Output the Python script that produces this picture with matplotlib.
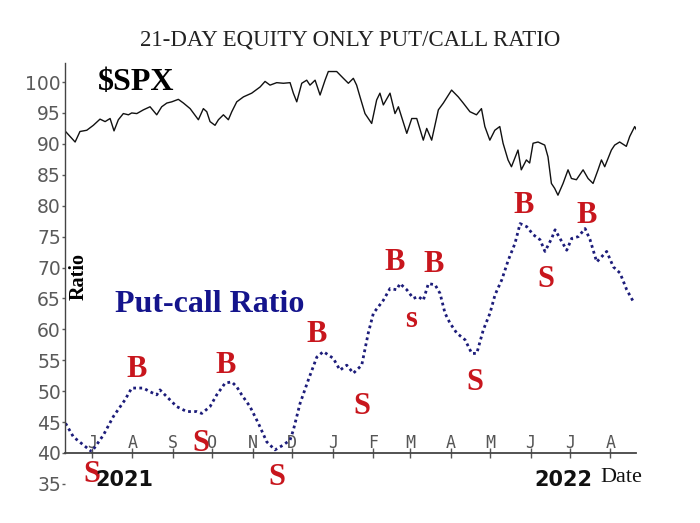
import matplotlib
matplotlib.use("Agg")
import matplotlib.pyplot as plt
import pandas as pd

# all x values are days after 2021-07-01
start = pd.Timestamp("2021-07-01")

# S&P 500 (scaled)
spx_days = [-20, -12.7, -9, -3.8, 1.2, 6.3, 10.2, 14, 17, 20.3,
            24.1, 28, 30.5, 34.4, 39.4, 44.5, 49.6, 53.4, 57.3, 61.1,
            66.1, 70, 75.1, 81.4, 85.2, 87.8, 90.3, 94.1, 96.7, 100.5,
            104.3, 106.9, 110.7, 115.8, 122.1, 128.5, 132.3, 136.1, 141.2, 146.3,
            151.4, 153.9, 156.5, 160.3, 164.1, 166.6, 170.5, 174.3, 178.1, 180.6,
            187, 192.1, 195.9, 199.7, 202.2, 204.8, 208.6, 213.7, 217.5, 220,
            222.6, 227.7, 231.5, 234.1, 240.5, 244.3, 248.1, 253.1, 255.7, 259.5,
            264.6, 268.4, 274.7, 279.8, 283.6, 288.7, 293.7, 297.5, 300.1, 303.9,
            307.7, 311.5, 314, 317.8, 320.4, 325.4, 327.9, 331.8, 334.3, 336.9,
            340.7, 345.8, 348.3, 350.9, 353.4, 355.9, 359.8, 363.6, 366.2, 370,
            375.1, 378.9, 382.7, 386.5, 389.1, 391.6, 396.7, 399.2, 403, 408.1,
            410.7, 414.5, 416]
spx_vals = [92.0, 90.3, 92.0, 92.2, 93.0, 94.0, 93.6, 94.1, 92.1, 93.9,
            94.9, 94.7, 95.0, 94.9, 95.5, 96.0, 94.7, 96.0, 96.6, 96.8,
            97.2, 96.6, 95.7, 93.9, 95.7, 95.2, 93.6, 93.0, 93.9, 94.7,
            93.9, 95.2, 96.8, 97.6, 98.2, 99.2, 100.1, 99.5, 99.9, 99.8,
            99.9, 98.2, 96.8, 99.8, 100.3, 99.5, 100.3, 97.9, 100.3, 101.7,
            101.7, 100.6, 99.8, 100.6, 99.5, 97.6, 94.9, 93.3, 97.1, 98.2,
            96.3, 98.2, 94.9, 96.0, 91.7, 94.1, 94.1, 90.6, 92.5, 90.6,
            95.5, 96.6, 98.7, 97.6, 96.6, 95.2, 94.7, 95.7, 92.8, 90.6,
            92.2, 92.8, 90.1, 87.4, 86.3, 89.0, 85.8, 87.4, 86.9, 90.1,
            90.3, 89.8, 87.9, 83.6, 82.8, 81.7, 83.6, 85.8, 84.4, 84.2,
            85.8, 84.4, 83.6, 85.8, 87.4, 86.3, 89.0, 89.8, 90.3, 89.6,
            91.2, 92.8, 92.2]

# 21-day equity-only put/call ratio
pcr_days = [-20, -14, 0, 8.9, 16.5, 25.4, 30.5, 39.4, 44.5, 49.6,
            52.1, 57.3, 64.9, 72.5, 80.2, 84, 90.3, 95.4, 101.8, 106.9,
            110.7, 114.5, 120.8, 127.2, 133.6, 139.9, 146.3, 151.4, 153.9, 159,
            165.3, 171.8, 176.8, 184.4, 189.5, 194.7, 199.7, 206.1, 211.1, 215,
            222.6, 227.7, 232.8, 235.3, 240.5, 245.5, 249.3, 253.1, 257, 262.1,
            265.9, 269.7, 273.5, 278.6, 285, 290.1, 293.9, 298.9, 304, 307.9,
            313, 318, 323.1, 327, 332.1, 337.1, 342.2, 346, 351.1, 353.7,
            358.8, 362.6, 366.4, 371.5, 376.6, 380.4, 385.5, 393.1, 398.2, 403.3,
            408.4, 413.4]
pcr_vals = [44.8, 42.6, 40.2, 42.9, 45.9, 48.6, 50.5, 50.5, 49.9, 49.4,
            50.2, 49.1, 47.5, 46.7, 46.7, 46.4, 47.5, 49.4, 51.3, 51.5,
            50.7, 49.4, 47.5, 44.8, 41.8, 40.5, 41.3, 42.1, 43.7, 48.0,
            51.8, 55.5, 56.4, 55.3, 53.4, 54.2, 52.9, 54.2, 59.4, 62.6,
            64.7, 66.6, 66.4, 67.4, 66.4, 65.0, 65.3, 64.7, 67.4, 67.2,
            65.8, 62.6, 61.0, 59.4, 58.3, 56.1, 56.1, 59.9, 62.6, 65.6,
            68.0, 71.2, 73.9, 77.1, 76.6, 75.3, 74.5, 72.6, 74.7, 76.1,
            74.2, 72.8, 74.7, 75.0, 76.3, 74.5, 70.9, 72.6, 70.1, 69.1,
            66.4, 64.5]

# buy / sell signal labels (text, day, baseline value)
sig_text = ["S", "B", "S", "B", "S", "B", "S", "B", "s", "B", "S", "B", "S", "B"]
sig_days = [0, 34, 83, 102, 141, 172, 206, 231.5, 243.5, 261, 292.6, 329.5, 346.6, 378]
sig_vals = [35.3, 52.3, 40.3, 52.9, 34.8, 58.0, 46.3, 69.6, 60.4, 69.2,
            50.2, 78.8, 66.9, 77.2]

month_ticks = ["2021-07-01", "2021-08-01", "2021-09-01", "2021-10-01", "2021-11-01",
               "2021-12-01", "2022-01-01", "2022-02-01", "2022-03-01", "2022-04-01",
               "2022-05-01", "2022-06-01", "2022-07-01", "2022-08-01"]
month_labels = ["J", "A", "S", "O", "N", "D", "J", "F", "M", "A", "M", "J", "J", "A"]
y_ticks = [35, 40, 45, 50, 55, 60, 65, 70, 75, 80, 85, 90, 95, 100]


def to_dates(days):
    return start + pd.to_timedelta(days, unit="D")


fig = plt.figure(figsize=(7, 5.23), dpi=100)
ax = fig.add_axes([0.0929, 0.0748, 0.8157, 0.8038])

ax.plot(to_dates(spx_days), spx_vals, color="#111111", lw=1.0)
ax.plot(to_dates(pcr_days), pcr_vals, color="#1c1c7a", lw=2.0,
        linestyle=(0, (1.0, 1.2)))

serif = "Liberation Serif"
for t, d, v in zip(sig_text, to_dates(sig_days), sig_vals):
    ax.text(d, v, t, ha="center", va="baseline", fontsize=22,
            fontweight="bold", family=serif, color="#c8161d", clip_on=False)

ax.set_xlim(to_dates([-20.4])[0], to_dates([415.5])[0])
ax.set_ylim(35, 103)

for s in ["top", "right"]:
    ax.spines[s].set_visible(False)
ax.spines["bottom"].set_position(("data", 40))
ax.spines["left"].set_bounds(40, 103)
ax.spines["bottom"].set_color("#444444")
ax.spines["left"].set_color("#444444")
ax.spines["bottom"].set_linewidth(1.3)
ax.spines["left"].set_linewidth(1.0)

ax.set_yticks(y_ticks)
ax.set_yticklabels([str(v) for v in y_ticks])
ax.tick_params(axis="y", direction="out", length=2.5, pad=0.5, colors="#5a5a5a",
               labelsize=13.5, width=1)
ax.set_xticks(pd.to_datetime(month_ticks))
ax.set_xticklabels(month_labels, family="DejaVu Sans Mono")
ax.tick_params(axis="x", direction="inout", length=7, width=1, pad=-17.5,
               colors="#555555", labelsize=12)

fig.text(0.5, 1 - 40 / 523, "21-DAY EQUITY ONLY PUT/CALL RATIO", ha="center",
         va="center", fontsize=16.5, family=serif, color="#222222")
fig.text(136 / 700, 1 - 90 / 523, "$SPX", ha="center", va="baseline",
         fontsize=23, fontweight="bold", family=serif, color="black")
fig.text(210 / 700, 1 - 311.5 / 523, "Put-call Ratio", ha="center", va="baseline",
         fontsize=23, fontweight="bold", family=serif, color="#14148c")
fig.text(79 / 700, 1 - 277 / 523, "Ratio", ha="center", va="center", rotation=90,
         fontsize=14.5, fontweight="bold", family=serif, color="black")
fig.text(124 / 700, 1 - 480 / 523, "2021", ha="center", va="center",
         fontsize=15, fontweight="bold", color="#111111")
fig.text(563 / 700, 1 - 480 / 523, "2022", ha="center", va="center",
         fontsize=15, fontweight="bold", color="#111111")
fig.text(621 / 700, 1 - 478 / 523, "Date", ha="center", va="center",
         fontsize=16, family=serif, color="#111111")

fig.savefig("out.png", dpi=100, facecolor="white")
